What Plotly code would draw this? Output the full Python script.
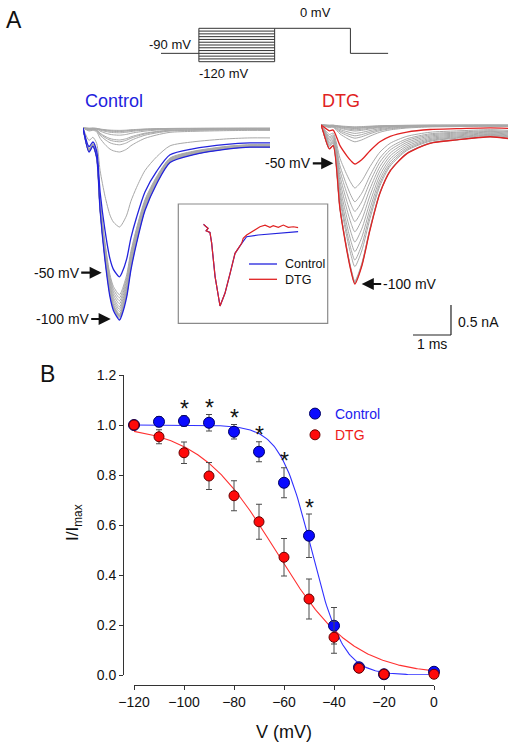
import numpy as np
import plotly.graph_objects as go

W, H = 519, 749
FONT = "Arial, 'Liberation Sans', sans-serif"

# ---------------- Panel B data (steady-state inactivation) ----------------
voltage = [-120, -110, -100, -90, -80, -70, -60, -50, -40, -30, -20, 0]
control_mean = [1.000, 1.013, 1.016, 1.009, 0.973, 0.893, 0.769, 0.557, 0.197, 0.031, 0.003, 0.013]
control_sem = [0.0, 0.020, 0.021, 0.033, 0.029, 0.040, 0.060, 0.087, 0.073, 0.008, 0.004, 0.005]
dtg_mean = [1.000, 0.953, 0.889, 0.796, 0.717, 0.613, 0.471, 0.304, 0.151, 0.027, 0.003, 0.003]
dtg_sem = [0.0, 0.028, 0.043, 0.054, 0.060, 0.070, 0.075, 0.080, 0.064, 0.006, 0.004, 0.004]
sig_voltages = [-100, -90, -80, -70, -60, -50]
# Boltzmann fit parameters
ctrl_vhalf, ctrl_k = -49.0, 6.3
dtg_vhalf, dtg_k = -63.5, 15.5
x_ticks = [-120, -100, -80, -60, -40, -20, 0]
y_ticks = [0.0, 0.2, 0.4, 0.6, 0.8, 1.0, 1.2]

# ---------------- Panel A data (current traces) ----------------
prepulse = list(range(-120, 5, 5))
ctrl_peak_nA = [3.12, 3.13, 3.15, 3.17, 3.20, 3.14, 3.10, 3.06, 3.02, 2.98, 2.93, 2.88, 2.83, 2.78,
                2.48, 1.65, 0.40, 0.28, 0.23, 0.20, 0.12, 0.08, 0.06, 0.05, 0.04]
dtg_peak_nA = [2.60, 2.62, 2.63, 2.64, 2.65, 2.36, 2.25, 2.11, 1.95, 1.78, 1.61, 1.44, 1.28, 1.05,
               0.65, 0.28, 0.22, 0.18, 0.14, 0.10, 0.08, 0.06, 0.05, 0.04, 0.03]
highlight = [-100, -50]
# normalised current waveforms (time in ms, fraction of peak inward current)
ctrl_t = [0, 0.16, 0.26, 0.36, 0.45, 0.58, 0.71, 0.80, 0.96, 1.03, 1.15, 1.26, 1.41, 1.63, 1.94,
          2.29, 2.89, 3.78, 4.39, 4.92]
ctrl_shape = [0, 0.125, 0.094, 0.156, 0.43, 0.69, 0.88, 0.95, 1.0, 0.97, 0.88, 0.74, 0.60, 0.43,
              0.29, 0.18, 0.14, 0.11, 0.10, 0.10]
dtg_t = [0, 0.03, 0.22, 0.32, 0.50, 0.68, 0.79, 0.89, 1.07, 1.29, 1.55, 1.82, 2.26, 2.87, 3.57,
         4.45, 4.92]
dtg_shape = [0, 0.02, 0.15, 0.13, 0.53, 0.79, 0.92, 1.0, 0.89, 0.66, 0.43, 0.29, 0.18, 0.115,
             0.094, 0.074, 0.085]
# inset: normalised -50 mV traces
inset_ctrl_t = [0, 0.25, 0.15, 0.35, 0.44, 0.62, 0.88, 1.14, 1.41, 1.67, 2.02, 2.28, 2.89, 3.77, 5.0]
inset_ctrl = [0, -0.05, -0.08, -0.10, -0.23, -0.64, -1.0, -0.845, -0.60, -0.355, -0.233, -0.152,
              -0.131, -0.11, -0.09]
inset_dtg_t = [0, 0.25, 0.15, 0.35, 0.44, 0.62, 0.88, 1.14, 1.41, 1.67, 2.02, 2.10, 2.28, 2.55,
               2.98, 3.25, 3.51, 3.68, 3.95, 4.21, 4.47, 4.74, 5.0]
inset_dtg = [0, -0.05, -0.08, -0.10, -0.23, -0.64, -1.0, -0.845, -0.60, -0.355, -0.233, -0.171,
             -0.131, -0.09, -0.03, -0.01, -0.037, -0.017, -0.037, -0.009, -0.037, -0.03, -0.04]
# voltage protocol
proto_hold = -90
proto_test = 0
proto_steps = list(range(-120, 10, 10))
proto_times = [0, 10, 30, 50, 60]
scale_ms, scale_nA = 1.0, 0.5

BLUE = "#2222dd"
RED = "#e02222"
GREY = "#a8a8a8"


def fx(px):
    return px / W


def fy(py):
    return 1 - py / H


fig = go.Figure()

# ---------- Panel B ----------
vfit = np.linspace(-120, 0, 241)
fig.add_trace(go.Scatter(x=vfit, y=1 / (1 + np.exp((vfit - ctrl_vhalf) / ctrl_k)), mode="lines",
                         line=dict(color="#3030ff", width=1.1), showlegend=False, hoverinfo="skip"))
fig.add_trace(go.Scatter(x=vfit, y=1 / (1 + np.exp((vfit - dtg_vhalf) / dtg_k)), mode="lines",
                         line=dict(color="#ff3030", width=1.1), showlegend=False, hoverinfo="skip"))
fig.add_trace(go.Scatter(x=voltage, y=control_mean, mode="markers", cliponaxis=False,
                         name="<span style='color:#1a1aee'>Control</span>",
                         marker=dict(size=11, color="#0a0aff", line=dict(color="#000066", width=1)),
                         error_y=dict(type="data", array=control_sem, color="#4a4a4a", thickness=1, width=3)))
fig.add_trace(go.Scatter(x=voltage, y=dtg_mean, mode="markers", cliponaxis=False,
                         name="<span style='color:#ee1a1a'>DTG</span>",
                         marker=dict(size=10, color="#ff0a0a", line=dict(color="#660000", width=1)),
                         error_y=dict(type="data", array=dtg_sem, color="#4a4a4a", thickness=1, width=3)))

annotations = []
for v in sig_voltages:
    i = voltage.index(v)
    annotations.append(dict(x=v, y=control_mean[i] + control_sem[i], xref="x", yref="y", text="*",
                            showarrow=False, yanchor="bottom", yshift=-8.5,
                            font=dict(size=23, color="#111", family=FONT)))

# ---------- Panel A: traces ----------
def add_family(peaks, t, shape, xa, ya, hcolor):
    for v, pk in zip(prepulse, peaks):
        if v in highlight:
            continue
        fig.add_trace(go.Scatter(x=t, y=[-pk * s for s in shape], mode="lines", xaxis=xa, yaxis=ya,
                                 line=dict(color=GREY, width=1, shape="spline", smoothing=0.7),
                                 showlegend=False, hoverinfo="skip"))
    for v, pk in zip(prepulse, peaks):
        if v in highlight:
            fig.add_trace(go.Scatter(x=t, y=[-pk * s for s in shape], mode="lines", xaxis=xa, yaxis=ya,
                                     line=dict(color=hcolor, width=1.3, shape="spline", smoothing=0.7),
                                     showlegend=False, hoverinfo="skip"))


add_family(ctrl_peak_nA, ctrl_t, ctrl_shape, "x2", "y2", BLUE)
add_family(dtg_peak_nA, dtg_t, dtg_shape, "x3", "y3", RED)

# inset
fig.add_trace(go.Scatter(x=inset_ctrl_t, y=inset_ctrl, mode="lines", xaxis="x5", yaxis="y5",
                         line=dict(color=BLUE, width=1.2), showlegend=False, hoverinfo="skip"))
fig.add_trace(go.Scatter(x=inset_dtg_t, y=inset_dtg, mode="lines", xaxis="x5", yaxis="y5",
                         line=dict(color=RED, width=1.2), showlegend=False, hoverinfo="skip"))

# voltage protocol
px_, py_ = [], []
t0, t1, t2, t3, t4 = proto_times
px_ += [t0, t1, None]; py_ += [proto_hold, proto_hold, None]
for v in proto_steps:
    px_ += [t1, t2, None]; py_ += [v, v, None]
px_ += [t1, t1, None, t2, t2, None]; py_ += [min(proto_steps), max(proto_steps), None,
                                             min(proto_steps), max(proto_steps), None]
px_ += [t2, t3, t3, t4]; py_ += [proto_test, proto_test, proto_hold, proto_hold]
fig.add_trace(go.Scatter(x=px_, y=py_, mode="lines", xaxis="x4", yaxis="y4",
                         line=dict(color="#333333", width=1), showlegend=False, hoverinfo="skip"))

# ---------- shapes ----------
shapes = []
# inset box
shapes.append(dict(type="rect", xref="paper", yref="paper", x0=fx(178.3), x1=fx(327.7),
                   y0=fy(323.3), y1=fy(204), line=dict(color="#8a8a8a", width=1.2)))
shapes.append(dict(type="line", xref="paper", yref="paper", x0=fx(249), x1=fx(277),
                   y0=fy(264), y1=fy(264), line=dict(color=BLUE, width=1.3)))
shapes.append(dict(type="line", xref="paper", yref="paper", x0=fx(249), x1=fx(277),
                   y0=fy(279.3), y1=fy(279.3), line=dict(color=RED, width=1.3)))
# scale bar (in DTG trace axes)
sb_t0, sb_i0 = 2.42, -3.5
shapes.append(dict(type="line", xref="x3", yref="y3", x0=sb_t0, x1=sb_t0 + scale_ms, y0=sb_i0, y1=sb_i0,
                   line=dict(color="#222", width=1.2)))
shapes.append(dict(type="line", xref="x3", yref="y3", x0=sb_t0 + scale_ms, x1=sb_t0 + scale_ms,
                   y0=sb_i0, y1=sb_i0 + scale_nA, line=dict(color="#222", width=1.2)))


def txt(x, y, s, size, color="#111", xanchor="center", yanchor="middle", angle=0):
    annotations.append(dict(x=fx(x), y=fy(y), xref="paper", yref="paper", text=s, showarrow=False,
                            xanchor=xanchor, yanchor=yanchor, textangle=angle,
                            font=dict(size=size, color=color, family=FONT)))


def arrow(hx, hy, dx, s, size=14):
    annotations.append(dict(x=fx(hx), y=fy(hy), xref="paper", yref="paper", text=s, showarrow=True,
                            ax=dx, ay=0, arrowhead=2, arrowsize=1.1, arrowwidth=2.2, arrowcolor="#111",
                            standoff=0, font=dict(size=size, color="#111", family=FONT)))


txt(14, 20, "A", 23)
txt(47, 374, "B", 23)
txt(315, 13, "0 mV", 13)
txt(193, 44, "-90 mV", 13, xanchor="right")
txt(197, 74, "-120 mV", 13, xanchor="left")
txt(83, 101, "Control", 18, color=BLUE, xanchor="left")
txt(320, 101, "DTG", 18, color=RED, xanchor="left")
arrow(101.7, 272.7, -45, "-50 mV")
arrow(110.7, 319, -48, "-100 mV")
arrow(333.3, 163.3, -45, "-50 mV")
arrow(361.7, 284, 48, "-100 mV")
txt(283, 264, "Control", 12.5, xanchor="left")
txt(283, 279.5, "DTG", 12.5, xanchor="left")
txt(456, 322, "0.5 nA", 14, xanchor="left")
txt(432, 344, "1 ms", 14)
txt(284, 732, "V (mV)", 18)
txt(74, 523, "I/I<sub>max</sub>", 17, angle=-90)

hidden = dict(visible=False, automargin=False, fixedrange=True)
fig.update_layout(
    width=W, height=H, autosize=False, margin=dict(l=0, r=0, t=0, b=0, pad=0, autoexpand=False),
    paper_bgcolor="white", plot_bgcolor="rgba(0,0,0,0)",
    font=dict(family=FONT, size=14, color="#111"),
    shapes=shapes, annotations=annotations,
    legend=dict(x=fx(295), y=fy(398), xanchor="left", yanchor="top", bgcolor="rgba(0,0,0,0)",
                font=dict(size=14, family=FONT), itemwidth=30, tracegroupgap=0),
    xaxis=dict(domain=[fx(134), fx(434)], range=[-120, 0], anchor="free", position=fy(685),
               tickvals=x_ticks, ticks="outside", ticklen=4, tickcolor="#333", showline=True,
               linecolor="#333", linewidth=1, showgrid=False, zeroline=False, automargin=False,
               tickfont=dict(size=14, family=FONT)),
    yaxis=dict(domain=[fy(675), fy(375)], range=[0, 1.2], anchor="free", position=fx(123),
               tickvals=y_ticks, tickformat=".1f", ticks="outside", ticklen=4, tickcolor="#333",
               showline=True, linecolor="#333", linewidth=1, showgrid=False, zeroline=False,
               automargin=False, tickfont=dict(size=14, family=FONT)),
    xaxis2=dict(domain=[fx(83), fx(270)], range=[0, 4.92], anchor="y2", **hidden),
    yaxis2=dict(domain=[fy(330), fy(120)], range=[(128 - 330) / 60, (128 - 120) / 60], anchor="x2",
                **hidden),
    xaxis3=dict(domain=[fx(321), fx(508)], range=[0, 4.92], anchor="y3", **hidden),
    yaxis3=dict(domain=[fy(345), fy(115)], range=[(125 - 345) / 60, (125 - 115) / 60], anchor="x3",
                **hidden),
    xaxis4=dict(domain=[fx(161), fx(388.3)], range=[0, 60], anchor="y4", **hidden),
    yaxis4=dict(domain=[fy(70), fy(20)], range=[-149.8, 29.8], anchor="x4", **hidden),
    xaxis5=dict(domain=[fx(203.3), fx(298.3)], range=[0, 5.0], anchor="y5", **hidden),
    yaxis5=dict(domain=[fy(315), fy(215)], range=[-(315 - 224.3) / 81.7, (224.3 - 215) / 81.7],
                anchor="x5", **hidden),
)

fig.write_html("out.html", config={"displayModeBar": False},
               post_script="document.body.style.margin='0';document.body.style.overflow='hidden';")
